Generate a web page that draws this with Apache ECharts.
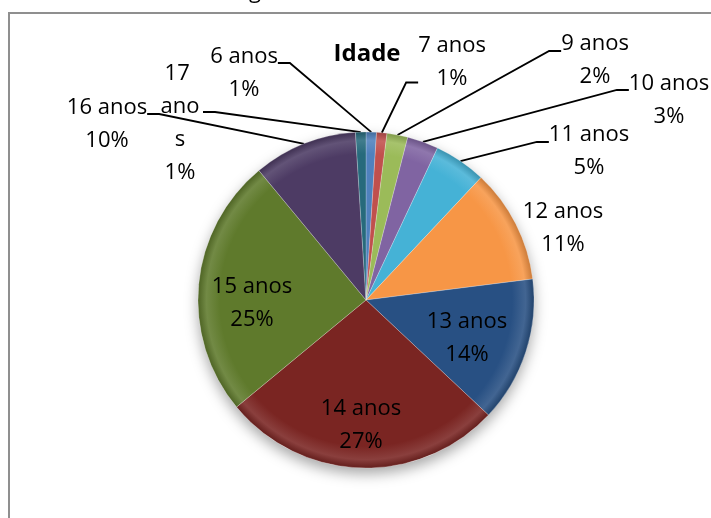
<!DOCTYPE html>
<html>
<head>
<meta charset="utf-8">
<script src="https://cdn.jsdelivr.net/npm/echarts@6/dist/echarts.min.js"></script>
<style>
  html, body { margin: 0; padding: 0; background: #fff; }
  #chart { width: 711px; height: 518px; }
</style>
</head>
<body>
<div id="chart"></div>
<script>
// Age distribution of respondents (percent)
const categories = ['6 anos', '7 anos', '9 anos', '10 anos', '11 anos', '12 anos',
                    '13 anos', '14 anos', '15 anos', '16 anos', '17 anos'];
const values = [1, 1, 2, 3, 5, 11, 14, 27, 25, 10, 1];
const sliceColors = ['#4F81BD', '#C0504D', '#9BBB59', '#8064A2', '#45B2D6', '#F79646',
                     '#285083', '#7A2522', '#5F7A2C', '#4D3B64', '#276A7C'];

// Label placement: centre x, y of the label block (y = where the leader line meets it)
const labelX = [244, 452, 595, 669, 589, 563, 467, 361, 252, 107, 180];
const labelY = [63, 82.5, 51, 90, 142, 228.5, 338.5, 425, 303, 114, 112];
// empty space added above (+) or below (-) a label so the leader meets the right text line
const labelGap = [21, -41, 19, 21, 19, 0, 0, 0, 0, 21, 23];
const insideIdx = [6, 7, 8];   // labels drawn on the slice itself
const noLineIdx = [5];         // outside label without a leader line

const CX = 366, CY = 300, R = 168;
const FONT = 'Open Sans';

function shade(hex, amt) {
  const n = parseInt(hex.slice(1), 16);
  let r = (n >> 16) & 255, g = (n >> 8) & 255, b = n & 255;
  const f = c => Math.max(0, Math.min(255, Math.round(amt >= 0 ? c + (255 - c) * amt : c * (1 + amt))));
  return 'rgb(' + f(r) + ',' + f(g) + ',' + f(b) + ')';
}

function sliceFill(base) {
  return new echarts.graphic.RadialGradient(CX, CY, R, [
    { offset: 0, color: base },
    { offset: 0.87, color: base },
    { offset: 0.95, color: shade(base, 0.12) },
    { offset: 1, color: shade(base, -0.18) }
  ], true);
}

const pieData = categories.map((name, i) => {
  const inside = insideIdx.indexOf(i) >= 0;
  const gap = labelGap[i];
  const item = {
    name: name,
    value: values[i],
    itemStyle: { color: sliceFill(sliceColors[i]) },
    label: {
      position: inside ? 'inside' : 'outside',
      formatter: p => {
        let s = p.name + '\n' + Math.round(p.percent) + '%';
        if (gap > 0) s = '{g' + gap + '| }\n' + s;
        if (gap < 0) s = s + '\n{g' + (-gap) + '| }';
        return s;
      },
      rich: {}
    },
    labelLine: { show: !inside && noLineIdx.indexOf(i) < 0 }
  };
  if (gap !== 0) {
    item.label.rich['g' + Math.abs(gap)] = { fontSize: 1, lineHeight: Math.abs(gap), height: Math.abs(gap) };
  }
  if (name === '17 anos') {
    item.label.width = 46;
    item.label.overflow = 'break';
  }
  return item;
});

const total = values.reduce((a, b) => a + b, 0);

const chart = echarts.init(document.getElementById('chart'), null, { renderer: 'canvas' });
chart.setOption({
  animation: false,
  backgroundColor: '#fff',
  title: {
    text: 'Idade',
    left: CX - 4,
    top: 37,
    textAlign: 'center',
    textStyle: { fontFamily: FONT, fontSize: 24, fontWeight: 'bold', color: '#000' }
  },
  graphic: [
    {
      type: 'rect', z: -10, silent: true,
      shape: { x: 9, y: 13, width: 760, height: 560 },
      style: { fill: '#fff', stroke: '#8f8f8f', lineWidth: 2 }
    },
    {
      type: 'text', silent: true, x: 255, y: -8,
      style: { text: 'g', fontFamily: FONT, fontSize: 22, fill: '#000', verticalAlign: 'middle', align: 'center' }
    }
  ],
  series: [
    {
      // soft drop shadow under the whole pie
      type: 'pie', silent: true, z: 1,
      center: [CX, CY], radius: R,
      label: { show: false }, labelLine: { show: false },
      itemStyle: { color: '#fff', shadowBlur: 14, shadowOffsetY: 6, shadowColor: 'rgba(0,0,0,0.35)' },
      data: [{ value: total, name: '' }]
    },
    {
      type: 'pie', z: 2,
      center: [CX, CY], radius: R,
      startAngle: 90, clockwise: true,
      avoidLabelOverlap: false,
      itemStyle: { borderColor: 'rgba(255,255,255,0.22)', borderWidth: 1 },
      label: {
        show: true,
        fontFamily: FONT, fontSize: 22, lineHeight: 33, color: '#000',
        align: 'center'
      },
      labelLine: {
        show: true, length: 12, length2: 12,
        lineStyle: { color: '#000', width: 1.8 }
      },
      labelLayout: function (params) {
        const i = params.dataIndex;
        return { x: labelX[i], y: labelY[i], align: 'center', verticalAlign: 'middle' };
      },
      data: pieData
    }
  ]
});
</script>
</body>
</html>
